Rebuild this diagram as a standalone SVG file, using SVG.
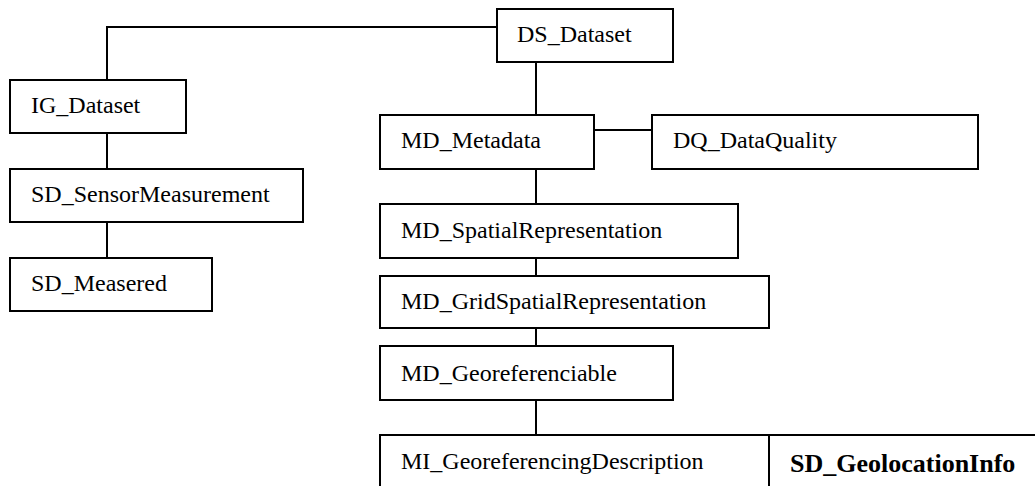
<svg xmlns="http://www.w3.org/2000/svg" width="1035" height="486" viewBox="0 0 1035 486">
<style>
.box{fill:#fff;stroke:#000;stroke-width:2}
.ln{fill:none;stroke:#000;stroke-width:2}
.t{font-family:"Liberation Serif","Times New Roman",serif;font-size:24px;fill:#000}
.b{font-weight:bold;font-size:26px}
</style>
<rect width="1035" height="486" fill="#fff"/>
<g id="connectors">
<polyline class="ln" points="497,27 107,27 107,80"/>
<line class="ln" x1="107" y1="133" x2="107" y2="169"/>
<line class="ln" x1="107" y1="222" x2="107" y2="258"/>
<line class="ln" x1="536" y1="62" x2="536" y2="115"/>
<line class="ln" x1="594" y1="130" x2="652" y2="130"/>
<line class="ln" x1="536" y1="169" x2="536" y2="204"/>
<line class="ln" x1="536" y1="258" x2="536" y2="276"/>
<line class="ln" x1="536" y1="328" x2="536" y2="346"/>
<line class="ln" x1="536" y1="400" x2="536" y2="435"/>
</g>
<g id="ds_dataset"><rect class="box" x="497" y="9" width="176" height="53"/><text class="t" x="517" y="42">DS_Dataset</text></g>
<g id="ig_dataset"><rect class="box" x="10" y="80" width="176" height="53"/><text class="t" x="31" y="113">IG_Dataset</text></g>
<g id="sd_sensormeasurement"><rect class="box" x="10" y="169" width="293" height="53"/><text class="t" x="31" y="202">SD_SensorMeasurement</text></g>
<g id="sd_measered"><rect class="box" x="10" y="258" width="202" height="53"/><text class="t" x="31" y="291">SD_Measered</text></g>
<g id="md_metadata"><rect class="box" x="380" y="115" width="214" height="54"/><text class="t" x="401" y="148">MD_Metadata</text></g>
<g id="dq_dataquality"><rect class="box" x="652" y="115" width="326" height="54"/><text class="t" x="673" y="148">DQ_DataQuality</text></g>
<g id="md_spatialrepresentation"><rect class="box" x="380" y="204" width="358" height="54"/><text class="t" x="401" y="238">MD_SpatialRepresentation</text></g>
<g id="md_gridspatialrepresentation"><rect class="box" x="380" y="276" width="389" height="52"/><text class="t" x="401" y="309">MD_GridSpatialRepresentation</text></g>
<g id="md_georeferenciable"><rect class="box" x="380" y="346" width="293" height="54"/><text class="t" x="401" y="381">MD_Georeferenciable</text></g>
<g id="mi_georeferencingdescription"><rect class="box" x="380" y="435" width="389" height="60"/><text class="t" x="401" y="469">MI_GeoreferencingDescription</text></g>
<g id="sd_geolocationinfo"><rect class="box" x="769" y="435" width="280" height="60"/><text class="t b" x="790" y="472">SD_GeolocationInfo</text></g>
</svg>
